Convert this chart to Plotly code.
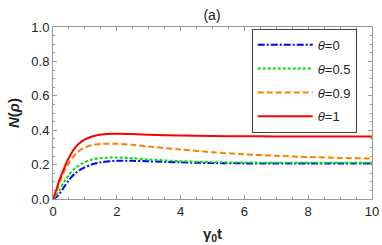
import plotly.graph_objects as go

t = [0, 0.1, 0.2, 0.35, 0.5, 0.7, 0.9, 1.2, 1.5, 2.0, 2.5, 3, 4, 5, 6, 7, 8, 9, 10]
theta0 = [0, 0.01, 0.03, 0.07, 0.11, 0.15, 0.175, 0.2, 0.213, 0.222, 0.222, 0.219, 0.213, 0.209, 0.207, 0.207, 0.207, 0.207, 0.207]
theta05 = [0, 0.02, 0.05, 0.10, 0.14, 0.18, 0.205, 0.228, 0.238, 0.241, 0.237, 0.230, 0.22, 0.214, 0.212, 0.211, 0.211, 0.211, 0.211]
theta09 = [0, 0.04, 0.09, 0.16, 0.21, 0.26, 0.29, 0.312, 0.32, 0.321, 0.315, 0.305, 0.288, 0.272, 0.26, 0.251, 0.244, 0.239, 0.235]
theta1 = [0, 0.05, 0.11, 0.18, 0.24, 0.30, 0.335, 0.362, 0.375, 0.38, 0.378, 0.374, 0.369, 0.366, 0.365, 0.364, 0.364, 0.364, 0.364]

names = ["<i>θ</i>=0", "<i>θ</i>=0.5", "<i>θ</i>=0.9", "<i>θ</i>=1"]
colors = ["#0000ff", "#00e000", "#ff8000", "#ff0000"]
dashes = ["7px,2px,2px,2px", "3px,2px", "6px,3px", "solid"]
series = [theta0, theta05, theta09, theta1]

FONT = "Liberation Sans, Arial"

fig = go.Figure()
for i, (n, c, d, y) in enumerate(zip(names, colors, dashes, series)):
    fig.add_trace(go.Scatter(x=t, y=y, mode="lines", name=n,
                             line=dict(color=c, dash=d, width=2, shape="spline", smoothing=0.8),
                             legendgroup=str(i)))

axis_common = dict(showline=True, linecolor="#999999", linewidth=1, mirror="ticks",
                   ticks="inside", ticklen=4, tickcolor="#999999", showgrid=False, zeroline=False,
                   automargin=False,
                   tickfont=dict(family=FONT, size=13, color="#222"))

fig.update_xaxes(range=[0, 10], dtick=2, tick0=0,
                 minor=dict(dtick=0.5, ticks="inside", ticklen=2, tickcolor="#999999"),
                 title=dict(text="<b>γ<sub>0</sub>t</b>", font=dict(family=FONT, size=15, color="#222"), standoff=10),
                 **axis_common)
fig.update_yaxes(range=[0, 1.0], dtick=0.2, tick0=0, tickformat=".1f",
                 minor=dict(dtick=0.05, ticks="inside", ticklen=2, tickcolor="#999999"),
                 title=dict(text="<b><i>N</i>(<i>ρ</i>)</b>", font=dict(family=FONT, size=15, color="#222"), standoff=8),
                 **axis_common)

fig.update_layout(
    width=382, height=245,
    margin=dict(l=53, r=10, t=27, b=46),
    plot_bgcolor="white", paper_bgcolor="white",
    title=dict(text="(a)", x=0.555, xanchor="center", y=0.94, yanchor="middle",
               font=dict(family=FONT, size=14, color="#222")),
    legend=dict(x=0.623, xanchor="left", y=0.99, yanchor="top",
                bgcolor="white", bordercolor="#444", borderwidth=1,
                font=dict(family=FONT, size=13, color="#222"),
                tracegroupgap=4, itemwidth=55),
)

fig.write_html("out.html", config={"displayModeBar": False},
               post_script="document.body.style.margin='0';document.body.style.overflow='hidden';")
